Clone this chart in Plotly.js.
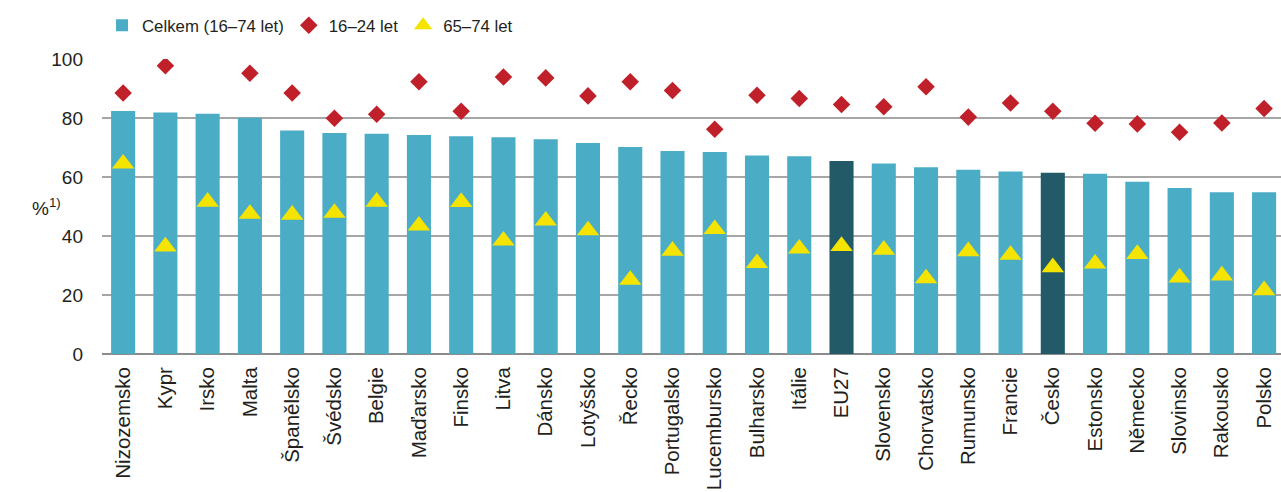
<!DOCTYPE html>
<html><head><meta charset="utf-8">
<script src="https://cdn.plot.ly/plotly-3.0.1.min.js"></script>
<style>html,body{margin:0;padding:0;background:#fff;}#chart{width:1281px;height:492px;}</style>
</head><body><div id="chart"></div>
<script>
const categories = ['Nizozemsko','Kypr','Irsko','Malta','Španělsko','Švédsko','Belgie','Maďarsko','Finsko','Litva','Dánsko','Lotyšsko','Řecko','Portugalsko','Lucembursko','Bulharsko','Itálie','EU27','Slovensko','Chorvatsko','Rumunsko','Francie','Česko','Estonsko','Německo','Slovinsko','Rakousko','Polsko'];
const total = [82.4,81.9,81.4,80.1,75.8,74.9,74.7,74.2,73.8,73.5,72.8,71.5,70.2,68.8,68.5,67.3,67.0,65.4,64.6,63.3,62.5,61.9,61.4,61.1,58.4,56.3,54.8,54.8];
const young = [88.5,97.7,null,95.2,88.5,79.9,81.3,92.3,82.3,93.9,93.6,87.5,92.3,89.3,76.2,87.7,86.6,84.6,83.8,90.6,80.3,85.1,82.3,78.2,78.0,75.2,78.3,83.2];
const old = [64.5,36.4,51.6,47.5,47.2,47.8,51.6,43.5,51.5,38.4,45.2,41.9,25.1,35.0,42.3,30.8,35.7,36.6,35.3,25.6,34.8,33.6,29.4,30.6,33.9,25.9,26.6,21.6];
const highlighted = ['EU27','Česko'];
const tickVals = [0,20,40,60,80,100];

const barColors = categories.map(c => highlighted.includes(c) ? '#225A68' : '#4BACC6');
const font = 'Liberation Sans, Arial, sans-serif';

const traces = [
  {type:'bar', name:'Celkem (16–74 let)', x:categories, y:total, marker:{color:barColors}, hoverinfo:'skip'},
  {type:'scatter', mode:'markers', name:'16–24 let', x:categories, y:young, marker:{symbol:'diamond', size:13.5, color:'#C0202A'}},
  {type:'scatter', mode:'markers', name:'65–74 let', x:categories, y:old, marker:{symbol:'triangle-up', size:19.5, color:'#F5E400'}}
];

const layout = {
  width:1281, height:492,
  margin:{l:102, r:0, t:59, b:138, autoexpand:false},
  paper_bgcolor:'#fff', plot_bgcolor:'#fff',
  font:{family:font, color:'#231F20', size:19},
  showlegend:true,
  bargap:0.43,
  legend:{orientation:'h', x:0.0, xanchor:'left', y:1.055, yanchor:'bottom', font:{size:16.8, family:font}, bgcolor:'rgba(0,0,0,0)', traceorder:'normal'},
  xaxis:{type:'category', range:[-0.5, 27.4], tickangle:-90, tickfont:{size:20.5}, showgrid:false, showline:false, zeroline:false, ticks:'', ticklabelstandoff:8, automargin:false, fixedrange:true},
  yaxis:{range:[0,100], tickvals:tickVals, ticktext:tickVals.map(String), showgrid:true, gridcolor:'#A6A6A6', gridwidth:1.3, zeroline:true, zerolinecolor:'#8C8C8C', zerolinewidth:2.5, showline:false, ticks:'', ticklabelstandoff:18, tickfont:{size:19}, automargin:false, fixedrange:true},
  annotations:[{xref:'paper', yref:'y', x:-0.033, y:50, xanchor:'right', yanchor:'middle', text:'%<sup>1)</sup>', showarrow:false, font:{size:19}}]
};

Plotly.newPlot('chart', traces, layout, {displayModeBar:false, staticPlot:true});
</script></body></html>
